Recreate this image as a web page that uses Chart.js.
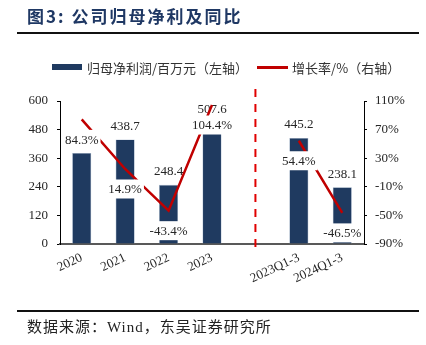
<!DOCTYPE html>
<html>
<head>
<meta charset="utf-8">
<script src="https://cdn.jsdelivr.net/npm/chart.js@4/dist/chart.umd.min.js"></script>
<style>
  html, body { margin: 0; padding: 0; background: #fff; }
  #wrap { position: relative; width: 426px; height: 345px; overflow: hidden; }
  #c { position: absolute; left: 0; top: 0; }
  .title { position: absolute; left: 27px; top: 3px; font: bold 17px "Noto Sans CJK SC", sans-serif; color: #1f3864; white-space: nowrap; letter-spacing: 2px; }
  .rule { position: absolute; left: 17px; width: 402px; background: #111; }
  .footer { position: absolute; left: 27px; top: 315px; font: 15px "Noto Sans CJK SC", serif; color: #222; white-space: nowrap; letter-spacing: 1px; }
  .legend { position: absolute; top: 56px; left: 52px; font: 13px "Noto Sans CJK SC", sans-serif; color: #333; white-space: nowrap; }
  .legend span { display: inline-block; vertical-align: middle; }
  .sw-bar { width: 30px; height: 6px; background: #1f3a60; margin-right: 5px; }
  .sw-line { width: 31px; height: 3px; background: #c00000; margin-left: 9px; margin-right: 4px; }
</style>
</head>
<body>
<div id="wrap">
  <canvas id="c" width="426" height="345"></canvas>
  <div class="title">图3:&nbsp;公司归母净利及同比</div>
  <div class="rule" style="top:32px;height:2px;"></div>
  <div class="legend">
    <span class="sw-bar"></span><span>归母净利润/百万元（左轴）</span><span class="sw-line"></span><span>增长率/%（右轴）</span>
  </div>
  <div class="rule" style="top:310px;height:2px;"></div>
  <div class="footer">数据来源：<span style="font-family:'Liberation Serif',serif;">Wind</span>，东吴证券研究所</div>
</div>
<script>
const categories = ['2020', '2021', '2022', '2023', '', '2023Q1-3', '2024Q1-3'];
const netProfit = [381.8, 438.7, 248.4, 507.6, null, 445.2, 238.1];
const growthRate = [84.3, 14.9, -43.4, 104.4, null, 54.4, -46.5];
const leftTicks = [0, 120, 240, 360, 480, 600];
const rightTicks = [-90, -50, -10, 30, 70, 110];
const dividerIndex = 4;

const labelFont = '13px "Liberation Serif", "Times New Roman", serif';

function drawBoxLabel(ctx, text, x, y) {
  ctx.save();
  ctx.font = labelFont;
  const w = ctx.measureText(text).width + 4;
  const h = 19;
  ctx.fillStyle = '#ffffff';
  ctx.fillRect(x - w / 2, y - h / 2, w, h);
  ctx.fillStyle = '#262626';
  ctx.textAlign = 'center';
  ctx.textBaseline = 'middle';
  ctx.fillText(text, x, y + 1);
  ctx.restore();
}

const labelPlugin = {
  id: 'labels',
  afterDatasetDraw(chart, args) {
    const ctx = chart.ctx;
    const meta = args.meta;
    if (args.index === 0) {
      meta.data.forEach((el, i) => {
        const v = netProfit[i];
        if (v === null) return;
        drawBoxLabel(ctx, v.toFixed(1), el.x, el.y - 14);
      });
    } else if (args.index === 1) {
      meta.data.forEach((el, i) => {
        const v = growthRate[i];
        if (v === null) return;
        drawBoxLabel(ctx, v.toFixed(1) + '%', el.x, el.y + 20);
      });
    }
  }
};

const dividerPlugin = {
  id: 'divider',
  afterDraw(chart) {
    const ctx = chart.ctx;
    const x = chart.scales.x.getPixelForValue(dividerIndex);
    const a = chart.chartArea;
    ctx.save();
    ctx.strokeStyle = '#e00000';
    ctx.lineWidth = 2;
    ctx.setLineDash([8, 7]);
    ctx.beginPath();
    ctx.moveTo(x, a.top - 12);
    ctx.lineTo(x, a.bottom + 10);
    ctx.stroke();
    ctx.restore();
  }
};

const tickFont = { family: '"Liberation Serif", "Times New Roman", serif', size: 13 };

new Chart(document.getElementById('c'), {
  data: {
    labels: categories,
    datasets: [
      {
        type: 'bar',
        label: '归母净利润/百万元（左轴）',
        data: netProfit,
        yAxisID: 'y',
        backgroundColor: '#1f3a60',
        borderColor: '#9fb1c8',
        borderWidth: 0.6,
        barPercentage: 0.44,
        categoryPercentage: 1,
        order: 1
      },
      {
        type: 'line',
        label: '增长率/%（右轴）',
        data: growthRate,
        yAxisID: 'y1',
        borderColor: '#c00000',
        borderWidth: 2.5,
        pointRadius: 0,
        tension: 0,
        spanGaps: false,
        order: 0
      }
    ]
  },
  options: {
    responsive: false,
    animation: false,
    devicePixelRatio: 1,
    layout: { padding: { top: 101, bottom: 61, left: 0, right: 0 } },
    plugins: { legend: { display: false }, tooltip: { enabled: false } },
    scales: {
      x: {
        grid: { display: false, drawTicks: false },
        border: { display: true, color: '#595959', width: 2 },
        ticks: { font: tickFont, color: '#262626', minRotation: 25, maxRotation: 25, padding: 6, autoSkip: false },
        afterFit(s) { s.height = 40; }
      },
      y: {
        position: 'left',
        min: 0, max: 600,
        afterBuildTicks(s) { s.ticks = leftTicks.map(v => ({ value: v })); },
        grid: { drawOnChartArea: false, drawTicks: true, tickLength: 3, color: '#000' },
        border: { display: true, color: '#000', width: 1 },
        ticks: { font: tickFont, color: '#262626', padding: 9 },
        afterFit(s) { s.width = 60; }
      },
      y1: {
        position: 'right',
        min: -90, max: 110,
        afterBuildTicks(s) { s.ticks = rightTicks.map(v => ({ value: v })); },
        grid: { drawOnChartArea: false, drawTicks: true, tickLength: 3, color: '#000' },
        border: { display: true, color: '#000', width: 1 },
        ticks: { font: tickFont, color: '#262626', padding: 8, callback: v => v + '%' },
        afterFit(s) { s.width = 62; }
      }
    }
  },
  plugins: [labelPlugin, dividerPlugin]
});
</script>
</body>
</html>
